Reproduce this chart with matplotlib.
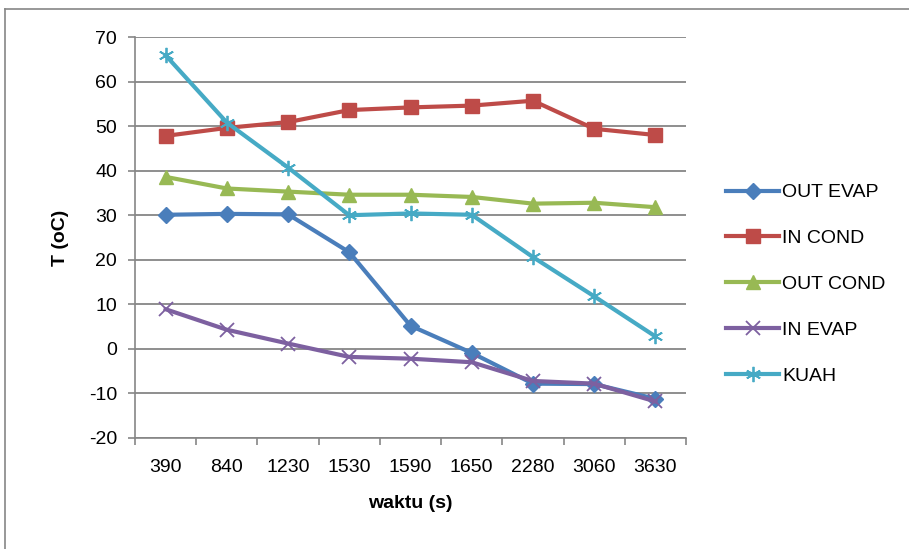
import numpy as np
import matplotlib
matplotlib.use("Agg")
import matplotlib.pyplot as plt
from matplotlib.lines import Line2D

plt.rcParams['font.family'] = ['Liberation Sans', 'DejaVu Sans']
plt.rcParams['axes.unicode_minus'] = False

waktu = ['390', '840', '1230', '1530', '1590', '1650', '2280', '3060', '3630']
out_evap = [30.1, 30.3, 30.2, 21.7, 5.2, -0.9, -7.8, -7.9, -11.2]
in_cond = [47.8, 49.6, 50.9, 53.6, 54.2, 54.6, 55.7, 49.4, 48.0]
out_cond = [38.6, 36.0, 35.3, 34.6, 34.6, 34.1, 32.6, 32.8, 31.8]
in_evap = [8.9, 4.3, 1.2, -1.8, -2.2, -3.0, -7.2, -7.8, -11.8]
kuah = [65.9, 50.8, 40.7, 30.0, 30.4, 30.1, 20.6, 11.8, 2.8]

series = [
    ('OUT EVAP', out_evap, '#4A7EBB', 'D', 8.5),
    ('IN COND', in_cond, '#BE4B48', 's', 10.5),
    ('OUT COND', out_cond, '#98B954', '^', 10),
    ('IN EVAP', in_evap, '#7D60A0', 'x', 10),
    ('KUAH', kuah, '#46AAC5', (6, 2, 0), 11),
]

fig = plt.figure(figsize=(9.09, 5.49), dpi=100)
ax = fig.add_axes([135/909, 1-438/549, 551/909, 401/549])

x = np.arange(len(waktu))
for name, vals, col, mk, ms in series:
    ax.plot(x, vals, color=col, lw=3, marker=mk, markersize=ms,
            markeredgewidth=1.3 if mk in ('x', (6, 2, 0)) else 1,
            markerfacecolor=col, markeredgecolor=col, label=name, zorder=3)

ax.set_xlim(-0.5, 8.5)
ax.set_ylim(-20, 70)
ax.set_yticks(range(-20, 71, 10))
ax.set_xticks(x)
ax.set_xticklabels(waktu)
ax.set_xticks(np.arange(-0.5, 9, 1), minor=True)
ax.tick_params(axis='x', which='major', length=0, pad=15, labelsize=14)
ax.tick_params(axis='x', which='minor', length=5, width=1.2, color='#868686')
ax.tick_params(axis='y', length=5, width=1.2, color='#868686', labelsize=14, pad=8)
ax.grid(axis='y', color='#868686', lw=1.3)
ax.set_axisbelow(True)
for s in ('top', 'right'):
    ax.spines[s].set_visible(False)
for s in ('left', 'bottom'):
    ax.spines[s].set_color('#868686')
    ax.spines[s].set_linewidth(1.2)

ax.set_xlabel('waktu (s)', fontsize=14, fontweight='bold', labelpad=14)
ax.set_ylabel('T (oC)', fontsize=14, fontweight='bold', labelpad=14)

ax.legend(loc='upper left', bbox_to_anchor=(718/909, 1-176/549),
          bbox_transform=fig.transFigure, frameon=False, fontsize=14,
          handlelength=2.75, handletextpad=0.15, labelspacing=1.45,
          borderaxespad=0)

# outer chart border (cropped at right/bottom)
fig.add_artist(Line2D([5/909, 5/909], [0, 1-9/549], transform=fig.transFigure,
                      color='#868686', lw=1.2))
fig.add_artist(Line2D([5/909, 1], [1-9/549, 1-9/549], transform=fig.transFigure,
                      color='#868686', lw=1.2))

fig.savefig('out.png', dpi=100)
